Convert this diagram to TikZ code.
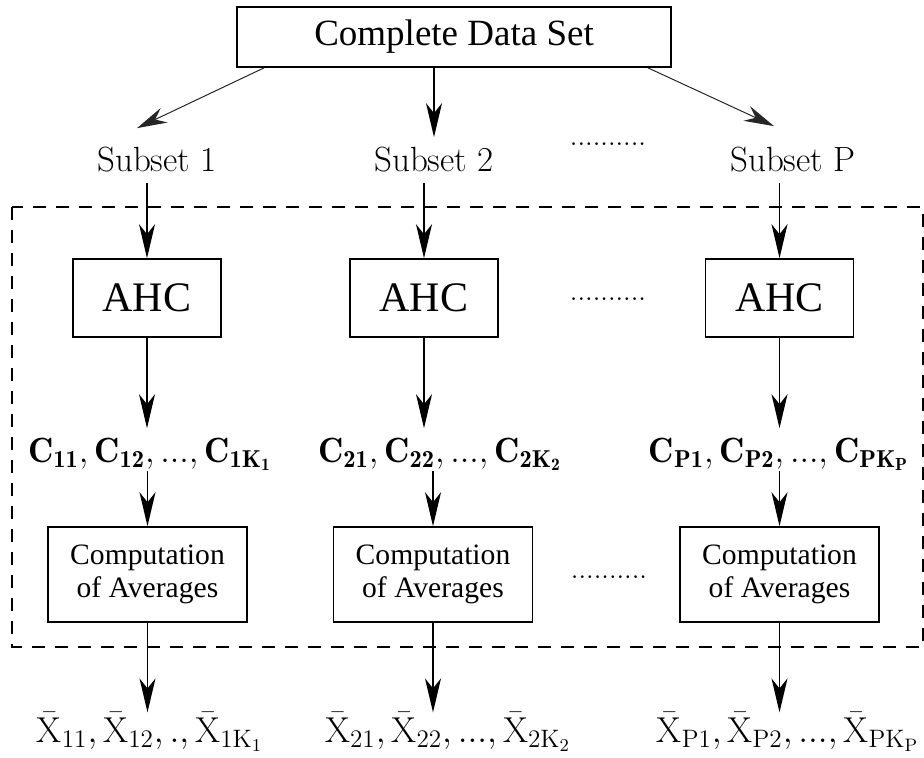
\RequirePackage{fix-cm}
\documentclass[tikz,border=0pt]{standalone}
\usepackage{fontspec}
\usepackage{amsmath}
\usepackage{tikz}
\usetikzlibrary{arrows.meta}
\newfontfamily\timesfont{Liberation Serif}
\tikzset{
  src/.style={draw,line width=0.8pt,inner sep=0pt,minimum width=217pt,minimum height=30pt,
    font=\timesfont\fontsize{18.5}{21}\selectfont},
  ahc/.style={draw,line width=0.8pt,inner sep=0pt,minimum width=74pt,minimum height=39pt,
    font=\timesfont\fontsize{21}{24}\selectfont},
  avg/.style={draw,line width=0.8pt,inner sep=0pt,minimum width=99.5pt,minimum height=47.5pt,
    align=center,font=\timesfont\fontsize{14.8}{16.5}\selectfont},
  set/.style={inner sep=0pt,anchor=base,font=\fontsize{17.5}{20}\selectfont},
  clu/.style={inner sep=0pt,anchor=base,font=\fontsize{17.5}{20}\selectfont},
  mean/.style={inner sep=0pt,anchor=base,font=\fontsize{18}{20}\selectfont},
  gap/.style={inner sep=0pt,anchor=base,font=\fontsize{14}{14}\selectfont},
  arr/.style={-{Stealth[length=17pt,width=8pt,inset=5pt]},line width=0.8pt},
  farr/.style={-{Stealth[length=15pt,width=8pt,inset=5pt]},line width=0.5pt,black!85},
  grp/.style={draw,line width=0.8pt,dash pattern=on 6.5pt off 5pt},
}

\begin{document}
\begin{tikzpicture}[x=0.5pt,y=-0.5pt]
  \useasboundingbox (0,0) rectangle (924,758);
  % frame round the per-subset work
  \draw[grp] (12,207) rectangle (923,647);

  \node[src] (cds) at (454,37) {Complete Data Set};
  \node[set] (sub1) at (157,172) {Subset 1};
  \node[set] (sub2) at (434,172) {Subset 2};
  \node[set] (subP) at (793,172) {Subset P};
  \node[gap] (gapS) at (608,146) {..........};

  \node[ahc] (ahc1) at (147,298) {AHC};
  \node[ahc] (ahc2) at (424,298) {AHC};
  \node[ahc] (ahcP) at (779.5,298) {AHC};
  \node[gap] (gapA) at (608,301) {..........};

  \node[clu] (c1) at (150,462) {$\mathbf{C_{11}, C_{12}, ..., C_{1K_1}}$};
  \node[clu] (c2) at (440,462) {$\mathbf{C_{21}, C_{22}, ..., C_{2K_2}}$};
  \node[clu] (cP) at (779,462) {$\mathbf{C_{P1}, C_{P2}, ..., C_{PK_P}}$};

  \node[avg] (avg1) at (147.5,574.5) {Computation\\of Averages};
  \node[avg] (avg2) at (433,574.5) {Computation\\of Averages};
  \node[avg] (avgP) at (779.5,574.5) {Computation\\of Averages};
  \node[gap] (gapC) at (609,578) {..........};

  \node[mean] (x1) at (150,742) {$\bar{\mathrm{X}}_{11}, \bar{\mathrm{X}}_{12}, ., \bar{\mathrm{X}}_{1\mathrm{K}_1}$};
  \node[mean] (x2) at (448,742) {$\bar{\mathrm{X}}_{21}, \bar{\mathrm{X}}_{22}, ..., \bar{\mathrm{X}}_{2\mathrm{K}_2}$};
  \node[mean] (xP) at (788,742) {$\bar{\mathrm{X}}_{\mathrm{P}1}, \bar{\mathrm{X}}_{\mathrm{P}2}, ..., \bar{\mathrm{X}}_{\mathrm{PK}_\mathrm{P}}$};

  % splitting the data
  \draw[farr] ([xshift=14pt]cds.south west) -- ([xshift=-10pt,yshift=9.5pt]sub1.north);
  \draw[arr] (cds.south -| sub2) -- ([yshift=5pt]sub2.north);
  \draw[farr] ([xshift=-12pt]cds.south east) -- ([xshift=-9.5pt,yshift=10.5pt]subP.north);

  % one column per subset
  \foreach \i in {1,2,P}{
    \draw[arr,shorten <=5pt] (sub\i.south -| ahc\i) -- (ahc\i);
    \draw[arr,shorten >=4.5pt] (ahc\i) -- (ahc\i |- c\i.north);
    \draw[arr] (c\i.south -| avg\i) -- (avg\i);
    \draw[arr] (avg\i) -- (avg\i |- x\i.north);
  }
\end{tikzpicture}
\end{document}
